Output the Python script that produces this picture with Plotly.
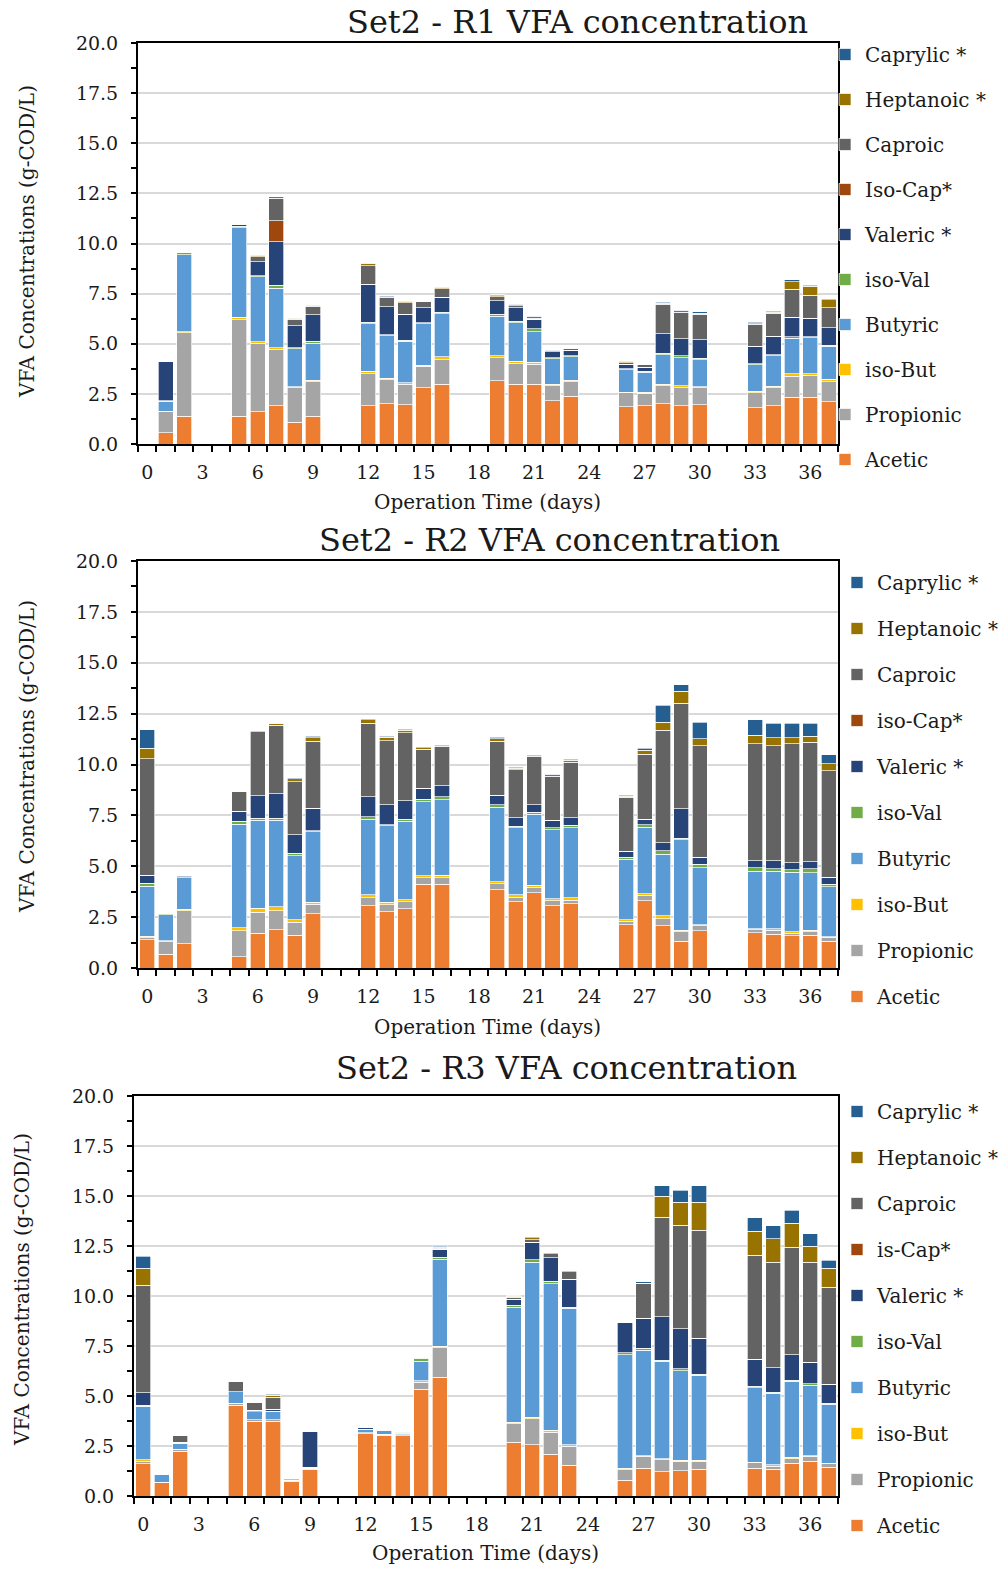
import plotly.graph_objects as go

FONT = "DejaVu Serif"
TXT = "#1a1a1a"

# ---------------- data ----------------
colors = ["#ED7D31", "#A5A5A5", "#FFC000", "#5B9BD5", "#70AD47",
          "#264478", "#9E480E", "#636363", "#997300", "#255E91"]

names_r1 = ["Acetic", "Propionic", "iso-But", "Butyric", "iso-Val",
            "Valeric *", "Iso-Cap*", "Caproic", "Heptanoic *", "Caprylic *"]
names_r2 = ["Acetic", "Propionic", "iso-But", "Butyric", "iso-Val",
            "Valeric *", "iso-Cap*", "Caproic", "Heptanoic *", "Caprylic *"]
names_r3 = ["Acetic", "Propionic", "iso-But", "Butyric", "iso-Val",
            "Valeric *", "is-Cap*", "Caproic", "Heptanoic *", "Caprylic *"]

tick_days = [0, 3, 6, 9, 12, 15, 18, 21, 24, 27, 30, 33, 36]

# ---- R1 ----
r1_days = [1, 2, 5, 6, 7, 8, 9, 12, 13, 14, 15, 16, 19, 20, 21, 22, 23,
           26, 27, 28, 29, 30, 33, 34, 35, 36, 37]
r1_acetic = [0.56, 1.39, 1.39, 1.60, 1.90, 1.09, 1.39, 1.90, 2.02, 1.97, 2.80, 2.98, 3.15, 2.98,
             2.98, 2.15, 2.38, 1.85, 1.90, 2.02, 1.90, 1.97, 1.80, 1.90, 2.32, 2.32, 2.10]
r1_propionic = [1.04, 4.16, 4.80, 3.43, 2.82, 1.71, 1.71, 1.61, 1.19, 1.01, 1.07, 1.22, 1.15, 1.06,
                0.99, 0.76, 0.72, 0.70, 0.62, 0.89, 0.91, 0.83, 0.75, 0.90, 1.06, 1.11, 1.00]
r1_isobut = [0.03, 0.05, 0.13, 0.07, 0.08, 0.06, 0.08, 0.12, 0.07, 0.07, 0.05, 0.14, 0.09, 0.08,
             0.12, 0.07, 0.08, 0.03, 0.06, 0.07, 0.10, 0.06, 0.08, 0.08, 0.13, 0.08, 0.13]
r1_butyric = [0.51, 3.85, 4.47, 3.24, 2.98, 1.89, 1.85, 2.36, 2.12, 2.08, 2.09, 2.15, 1.97, 1.92,
              1.52, 1.26, 1.16, 1.13, 1.01, 1.47, 1.38, 1.34, 1.33, 1.51, 1.77, 1.79, 1.65]
r1_isoval = [0.02, 0.10, 0.06, 0.05, 0.13, 0.05, 0.10, 0.09, 0.06, 0.05, 0.03, 0.08, 0.10, 0.07,
             0.13, 0.05, 0.05, 0.05, 0.05, 0.07, 0.10, 0.07, 0.05, 0.06, 0.07, 0.06, 0.05]
r1_valeric = [1.96, 0.00, 0.10, 0.70, 2.17, 1.11, 1.31, 1.88, 1.39, 1.28, 0.75, 0.75, 0.69, 0.69,
              0.49, 0.30, 0.28, 0.21, 0.20, 0.98, 0.86, 0.93, 0.86, 0.93, 0.97, 0.91, 0.86]
r1_isocap = [0, 0, 0, 0, 1.06, 0, 0, 0, 0, 0, 0, 0, 0, 0,
             0, 0, 0, 0, 0, 0, 0, 0, 0, 0, 0, 0, 0]
r1_caproic = [0, 0, 0, 0.26, 1.11, 0.32, 0.43, 0.93, 0.48, 0.58, 0.30, 0.43, 0.20, 0.10,
              0.04, 0.05, 0.08, 0.09, 0.13, 1.47, 1.32, 1.27, 1.11, 1.13, 1.41, 1.16, 1.00]
r1_heptanoic = [0, 0, 0, 0.05, 0.07, 0.04, 0.05, 0.13, 0.02, 0.05, 0.02, 0.05, 0.05, 0.05,
                0.07, 0.02, 0.02, 0.04, 0.02, 0.04, 0.07, 0.04, 0.03, 0.06, 0.37, 0.43, 0.40]
r1_caprylic = [0, 0, 0.02, 0.02, 0.02, 0.02, 0.02, 0.02, 0.05, 0.02, 0.02, 0.02, 0.05, 0.02,
               0.02, 0.02, 0.02, 0.02, 0.02, 0.06, 0.03, 0.08, 0.06, 0.05, 0.10, 0.07, 0.05]

# ---- R2 ----
r2_days = [0, 1, 2, 5, 6, 7, 8, 9, 12, 13, 14, 15, 16, 19, 20, 21, 22, 23,
           26, 27, 28, 29, 30, 33, 34, 35, 36, 37]
r2_acetic = [1.38, 0.67, 1.18, 0.56, 1.72, 1.89, 1.61, 2.66, 3.05, 2.77, 2.90, 4.11, 4.11, 3.84,
             3.25, 3.70, 3.05, 3.16, 2.13, 3.30, 2.07, 1.31, 1.84, 1.74, 1.66, 1.59, 1.61, 1.31]
r2_propionic = [0.10, 0.63, 1.64, 1.28, 1.03, 0.93, 0.64, 0.47, 0.41, 0.34, 0.35, 0.33, 0.33, 0.29,
                0.23, 0.28, 0.25, 0.17, 0.17, 0.27, 0.36, 0.48, 0.23, 0.13, 0.19, 0.13, 0.18, 0.20]
r2_isobut = [0.08, 0.03, 0.07, 0.13, 0.18, 0.18, 0.11, 0.10, 0.13, 0.12, 0.11, 0.10, 0.12, 0.12,
             0.11, 0.09, 0.11, 0.13, 0.08, 0.07, 0.13, 0.06, 0.06, 0.06, 0.07, 0.07, 0.06, 0.02]
r2_butyric = [2.46, 1.29, 1.54, 5.10, 4.32, 4.25, 3.16, 3.46, 3.71, 3.77, 3.84, 3.64, 3.72, 3.65,
              3.31, 3.49, 3.38, 3.44, 2.96, 3.28, 3.03, 4.45, 2.79, 2.82, 2.83, 2.91, 2.84, 2.47]
r2_isoval = [0.14, 0.04, 0.06, 0.13, 0.11, 0.11, 0.12, 0.05, 0.13, 0.05, 0.10, 0.12, 0.13, 0.12,
             0.07, 0.10, 0.11, 0.12, 0.10, 0.11, 0.16, 0.08, 0.18, 0.17, 0.12, 0.12, 0.18, 0.11]
r2_valeric = [0.41, 0.04, 0.07, 0.50, 1.10, 1.21, 0.92, 1.10, 0.98, 0.97, 0.93, 0.54, 0.54, 0.46,
              0.41, 0.36, 0.35, 0.36, 0.30, 0.27, 0.40, 1.44, 0.34, 0.36, 0.41, 0.34, 0.36, 0.35]
r2_isocap = [0] * 28
r2_caproic = [5.71, 0, 0, 0.99, 3.16, 3.35, 2.59, 3.31, 3.61, 3.14, 3.34, 1.90, 1.94, 2.67,
              2.37, 2.39, 2.18, 2.73, 2.64, 3.21, 5.54, 5.20, 5.48, 5.74, 5.64, 5.87, 5.87, 5.24]
r2_heptanoic = [0.52, 0, 0, 0, 0.05, 0.10, 0.15, 0.16, 0.18, 0.17, 0.12, 0.08, 0.04, 0.11,
                0.07, 0.03, 0.06, 0.09, 0.06, 0.19, 0.39, 0.57, 0.34, 0.41, 0.39, 0.28, 0.29, 0.33]
r2_caprylic = [0.92, 0, 0, 0, 0, 0, 0.04, 0.07, 0.05, 0.05, 0.05, 0.05, 0.05, 0.07,
               0.05, 0.04, 0.03, 0.05, 0.05, 0.09, 0.82, 0.33, 0.82, 0.77, 0.72, 0.72, 0.64, 0.45]

# ---- R3 ----
r3_days = [0, 1, 2, 5, 6, 7, 8, 9, 12, 13, 14, 15, 16, 20, 21, 22, 23,
           26, 27, 28, 29, 30, 33, 34, 35, 36, 37]
r3_acetic = [1.62, 0.67, 2.23, 4.53, 3.75, 3.75, 0.73, 1.33, 3.12, 3.05, 3.02, 5.33, 5.93, 2.68,
             2.57, 2.10, 1.55, 0.80, 1.40, 1.22, 1.27, 1.33, 1.40, 1.33, 1.63, 1.75, 1.43]
r3_propionic = [0.11, 0.03, 0.12, 0.12, 0.07, 0.07, 0.05, 0.07, 0.05, 0.05, 0.05, 0.37, 1.49, 0.94,
                1.30, 1.10, 0.95, 0.52, 0.58, 0.60, 0.46, 0.40, 0.28, 0.17, 0.24, 0.25, 0.19]
r3_isobut = [0.09, 0, 0, 0, 0, 0, 0, 0, 0, 0, 0, 0.07, 0.08, 0.06,
             0.06, 0.08, 0.07, 0.06, 0.04, 0.05, 0.07, 0.07, 0.02, 0.07, 0.06, 0.02, 0.02]
r3_butyric = [2.66, 0.38, 0.27, 0.57, 0.40, 0.41, 0.04, 0.03, 0.16, 0.18, 0.08, 0.98, 4.33, 5.77,
              7.77, 7.34, 6.81, 5.69, 5.28, 4.86, 4.47, 4.23, 3.72, 3.58, 3.80, 3.53, 2.94]
r3_isoval = [0.07, 0, 0.03, 0, 0, 0, 0, 0, 0, 0, 0.03, 0.13, 0.12, 0.10,
             0.12, 0.11, 0.07, 0.10, 0.10, 0.07, 0.10, 0.05, 0.06, 0.05, 0.07, 0.07, 0.07]
r3_valeric = [0.62, 0.05, 0.05, 0, 0.06, 0.10, 0.08, 1.79, 0.09, 0.07, 0.04, 0.05, 0.38, 0.30,
              0.86, 1.19, 1.40, 1.51, 1.50, 2.17, 2.00, 1.82, 1.35, 1.22, 1.27, 1.08, 0.95]
r3_isocap = [0] * 27
r3_caproic = [5.38, 0, 0.33, 0.53, 0.40, 0.62, 0, 0, 0.03, 0.03, 0, 0, 0.05, 0.10,
              0.14, 0.20, 0.37, 0.02, 1.75, 4.96, 5.16, 5.38, 5.20, 5.28, 5.38, 5.00, 4.83]
r3_heptanoic = [0.85, 0, 0, 0, 0, 0.08, 0, 0, 0, 0, 0, 0, 0.05, 0.03,
                0.10, 0, 0, 0, 0, 1.07, 1.17, 1.42, 1.20, 1.17, 1.18, 0.80, 0.95]
r3_caprylic = [0.58, 0, 0, 0, 0.04, 0.07, 0, 0, 0, 0, 0, 0, 0.05, 0.04,
               0.05, 0.05, 0.05, 0, 0.07, 0.52, 0.58, 0.82, 0.69, 0.65, 0.65, 0.62, 0.42]

r1_series = [r1_acetic, r1_propionic, r1_isobut, r1_butyric, r1_isoval,
             r1_valeric, r1_isocap, r1_caproic, r1_heptanoic, r1_caprylic]
r2_series = [r2_acetic, r2_propionic, r2_isobut, r2_butyric, r2_isoval,
             r2_valeric, r2_isocap, r2_caproic, r2_heptanoic, r2_caprylic]
r3_series = [r3_acetic, r3_propionic, r3_isobut, r3_butyric, r3_isoval,
             r3_valeric, r3_isocap, r3_caproic, r3_heptanoic, r3_caprylic]

titles = ["Set2 - R1 VFA concentration", "Set2 - R2 VFA concentration",
          "Set2 - R3 VFA concentration"]

# ---------------- layout geometry (pixels) ----------------
W, H = 1000, 1570
def px(x):
    return x / W
def py(y):
    return 1 - y / H

panels = [
    dict(days=r1_days, series=r1_series, names=names_r1, x0=138, x1=838, y0=43, y1=444,
         title_xy=(577, 22), xt_xy=(487, 502), yt_xy=(27, 242), leg_x=825, leg_y=35, gap=16),
    dict(days=r2_days, series=r2_series, names=names_r2, x0=138, x1=838, y0=561, y1=968,
         title_xy=(549, 540), xt_xy=(487, 1027), yt_xy=(27, 757), leg_x=837, leg_y=563, gap=17),
    dict(days=r3_days, series=r3_series, names=names_r3, x0=134, x1=838, y0=1096, y1=1496,
         title_xy=(566, 1068), xt_xy=(485, 1553), yt_xy=(22, 1290), leg_x=837, leg_y=1092, gap=17),
]

fig = go.Figure()
annotations = []
layout = {}

for k, p in enumerate(panels):
    sfx = "" if k == 0 else str(k + 1)
    xa, ya, lg = "x" + sfx, "y" + sfx, "legend" + sfx
    for i, vals in enumerate(p["series"]):
        fig.add_trace(go.Bar(
            x=p["days"], y=vals, name=p["names"][i],
            marker=dict(color=colors[i], line=dict(color="rgba(255,255,255,0.85)", width=0.8)),
            xaxis=xa, yaxis=ya, legend=lg, legendgroup=f"p{k}_{i}", legendrank=100 - i,
            hovertemplate="%{x}: %{y}<extra>" + p["names"][i] + "</extra>",
        ))
    layout["xaxis" + sfx] = dict(
        domain=[px(p["x0"]), px(p["x1"])], anchor=ya, range=[-0.5, 37.5],
        tickmode="array", tickvals=tick_days, ticktext=[str(d) for d in tick_days],
        ticks="", ticklabelstandoff=10,
        showline=True, linecolor="black", linewidth=2, mirror=True, showgrid=False,
        zeroline=False, automargin=False,
        tickfont=dict(family=FONT, size=19, color=TXT),
        minor=dict(tickmode="array", tickvals=[i - 0.5 for i in range(39)],
                   ticks="outside", ticklen=6, tickwidth=2, tickcolor="black",
                   showgrid=False),
    )
    layout["yaxis" + sfx] = dict(
        domain=[py(p["y1"]), py(p["y0"])], anchor=xa, range=[0, 20],
        tickmode="linear", tick0=0, dtick=2.5, tickformat=".1f",
        ticks="outside", ticklen=5, tickwidth=2, tickcolor="black", ticklabelstandoff=9,
        showline=True, linecolor="black", linewidth=2, mirror=True,
        showgrid=True, gridcolor="#d9d9d9", gridwidth=2, zeroline=False, automargin=False,
        tickfont=dict(family=FONT, size=19, color=TXT),
        minor=dict(tick0=0, dtick=1.25, ticks="outside", ticklen=5, tickwidth=2,
                   tickcolor="black", showgrid=False),
    )
    layout[lg] = dict(
        x=px(p["leg_x"]), y=py(p["leg_y"]), xref="container", yref="container",
        xanchor="left", yanchor="top",
        traceorder="grouped", tracegroupgap=p["gap"],
        font=dict(family=FONT, size=20, color=TXT), bgcolor="rgba(0,0,0,0)",
    )
    tx, ty = p["title_xy"]
    annotations.append(dict(text=titles[k], x=px(tx), y=py(ty), xref="paper", yref="paper",
                            xanchor="center", yanchor="middle", showarrow=False,
                            font=dict(family=FONT, size=32, color=TXT)))
    tx, ty = p["xt_xy"]
    annotations.append(dict(text="Operation Time (days)", x=px(tx), y=py(ty), xref="paper",
                            yref="paper", xanchor="center", yanchor="middle", showarrow=False,
                            font=dict(family=FONT, size=20, color=TXT)))
    tx, ty = p["yt_xy"]
    annotations.append(dict(text="VFA Concentrations (g-COD/L)", x=px(tx), y=py(ty),
                            xref="paper", yref="paper", xanchor="center", yanchor="middle",
                            textangle=-90, showarrow=False,
                            font=dict(family=FONT, size=20, color=TXT)))

fig.update_layout(
    width=W, height=H, margin=dict(l=0, r=0, t=0, b=0, autoexpand=False),
    paper_bgcolor="white", plot_bgcolor="white",
    barmode="stack", bargap=0.18, showlegend=True,
    annotations=annotations, **layout,
)

fig.write_html("out.html")
